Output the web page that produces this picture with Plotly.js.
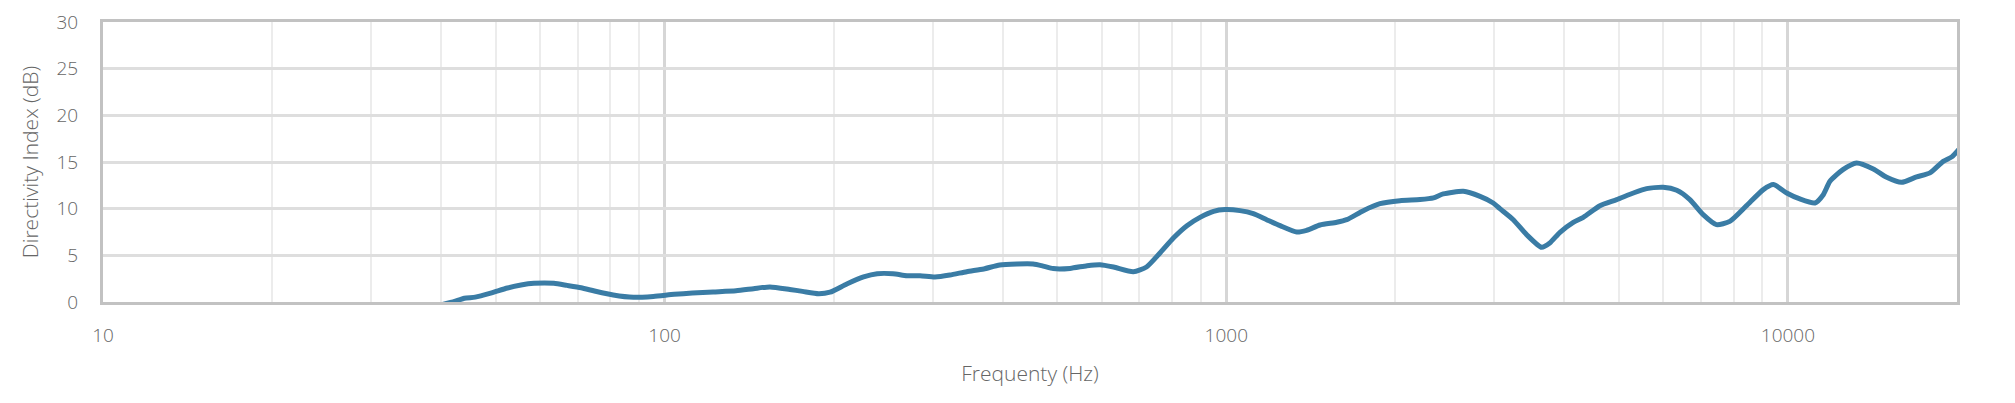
<!DOCTYPE html>
<html>
<head>
<meta charset="utf-8">
<script src="https://cdn.plot.ly/plotly-3.0.1.min.js"></script>
<style>html,body{margin:0;padding:0;background:#fff;}#chart{width:2015px;height:403px;}</style>
</head>
<body>
<div id="chart"></div>
<script>
const frequencies = [38,40,42,44,46,49,52.5,55.5,58.5,63.5,67,71,75,81,88,95.5,104,112,122,134,144,154,167,176,188,197,211,226,239,255,270,285,303,322,345,370,395,424,453,472,492,527,565,596,630,683,721,762,805,851,898,949,995,1058,1117,1180,1247,1335,1390,1469,1573,1638,1754,1878,2038,2213,2338,2434,2643,2830,2987,3070,3243,3425,3643,3767,3928,4148,4322,4627,4956,5306,5603,5996,6339,6690,7065,7460,7880,8440,9040,9420,9950,10500,11170,11560,11880,12530,13250,14190,14990,15930,16950,17900,18900,19580,20250];
const directivity = [-0.6,-0.3,0.0,0.4,0.52,0.95,1.5,1.82,2.0,2.0,1.78,1.52,1.18,0.75,0.5,0.6,0.82,0.96,1.08,1.21,1.43,1.62,1.35,1.14,0.89,1.05,1.93,2.68,3.03,3.03,2.82,2.82,2.68,2.89,3.25,3.54,3.97,4.07,4.07,3.85,3.58,3.6,3.89,4.0,3.75,3.25,3.75,5.25,6.86,8.18,9.07,9.71,9.9,9.79,9.47,8.82,8.18,7.5,7.68,8.25,8.54,8.82,9.79,10.54,10.86,10.97,11.15,11.58,11.86,11.32,10.61,10.0,8.82,7.22,5.86,6.32,7.47,8.54,9.07,10.32,10.97,11.68,12.15,12.29,11.97,10.97,9.36,8.29,8.64,10.32,12.04,12.58,11.68,11.04,10.61,11.5,12.93,14.18,14.9,14.26,13.36,12.82,13.4,13.83,15.07,15.55,16.5];

const xTickVals = [10,100,1000,10000];
const xTickText = ['10','100','1000','10000'];
const xMinorVals = [20,30,40,50,60,70,80,90,200,300,400,500,600,700,800,900,2000,3000,4000,5000,6000,7000,8000,9000];
const yTickVals = [0,5,10,15,20,25,30];

const tickFont = {family: '"Open Sans", sans-serif', size: 19, color: '#666', weight: 300};
const titleFont = {family: '"Open Sans", sans-serif', size: 21, color: '#666', weight: 300};

Plotly.newPlot('chart', [{
  x: frequencies,
  y: directivity,
  type: 'scatter',
  mode: 'lines',
  line: {color: '#3a7ca5', width: 5, shape: 'spline', smoothing: 0.6},
  hoverinfo: 'x+y'
}], {
  width: 2015,
  height: 403,
  margin: {l: 103, r: 58, t: 22, b: 101},
  paper_bgcolor: '#fff',
  plot_bgcolor: '#fff',
  showlegend: false,
  xaxis: {
    type: 'log',
    range: [1, Math.log10(20000)],
    tickmode: 'array',
    tickvals: xTickVals,
    ticktext: xTickText,
    showgrid: true,
    gridcolor: '#d6d6d6',
    gridwidth: 3,
    minor: {tickmode: 'array', tickvals: xMinorVals, showgrid: true, gridcolor: '#ececec', gridwidth: 2, ticks: ''},
    showline: true,
    mirror: true,
    linecolor: '#c2c2c2',
    linewidth: 3,
    zeroline: false,
    ticks: '',
    ticklabelstandoff: 14,
    tickfont: tickFont,
    title: {text: 'Frequenty (Hz)', font: titleFont, standoff: 20}
  },
  yaxis: {
    range: [0, 30],
    tickmode: 'array',
    tickvals: yTickVals,
    showgrid: true,
    gridcolor: '#dedede',
    gridwidth: 3,
    showline: true,
    mirror: true,
    linecolor: '#c2c2c2',
    linewidth: 3,
    zeroline: false,
    ticks: '',
    ticklabelstandoff: 18,
    tickfont: tickFont,
    title: {text: 'Directivity Index (dB)', font: titleFont, standoff: 13}
  }
}, {displayModeBar: false, staticPlot: true});
</script>
</body>
</html>
